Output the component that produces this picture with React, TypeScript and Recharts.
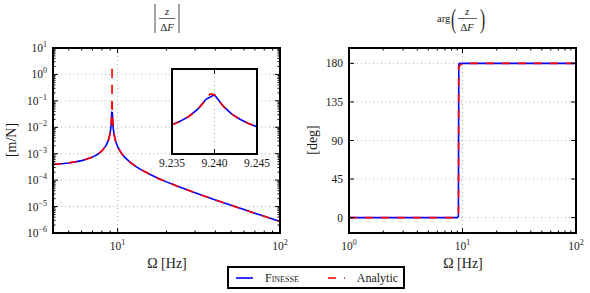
import { LineChart, Line, XAxis, YAxis, ReferenceLine } from "recharts";

const FONT = "'Liberation Serif', 'DejaVu Serif', serif";
const INK = "#1a1a1a";
const BLUE = "#0000ff";
const RED = "#ff0000";
const GRID = "#b4b4b4";

// |z / dF| in m/N, Finesse run (coarser sampling, misses the top of the peak)
const finesseFreq = [4, 4.5, 5, 5.5, 6, 6.5, 7, 7.5, 8, 8.5, 8.8, 9, 9.1, 9.15, 9.2, 9.28, 9.35, 9.4, 9.5, 9.7, 10, 10.5, 11, 12, 13, 14, 16, 18, 20, 25, 30, 40, 50, 60, 70, 80, 90, 100];
const finesseMag = [3.9e-4, 4.16e-4, 4.48e-4, 4.91e-4, 5.48e-4, 6.28e-4, 7.44e-4, 9.29e-4, 1.27e-3, 2.06e-3, 3.41e-3, 6.19e-3, 1.06e-2, 1.64e-2, 3.7e-2, 3.63e-2, 1.32e-2, 9.06e-3, 5.55e-3, 3.1e-3, 1.85e-3, 1.09e-3, 7.6e-4, 4.62e-4, 3.24e-4, 2.45e-4, 1.59e-4, 1.13e-4, 8.6e-5, 5.02e-5, 3.32e-5, 1.79e-5, 1.12e-5, 7.7e-6, 5.62e-6, 4.29e-6, 3.38e-6, 2.73e-6];

// analytic curve, goes all the way up the resonance
const analyticFreq = [4, 5, 6, 7, 7.5, 8, 8.5, 8.8, 9, 9.1, 9.15, 9.2, 9.22, 9.23, 9.235, 9.2397, 9.245, 9.25, 9.26, 9.28, 9.35, 9.4, 9.5, 9.7, 10, 10.5, 11, 12, 13, 14, 16, 18, 20, 25, 30, 40, 50, 60, 70, 80, 90, 100];
const analyticMag = [3.9e-4, 4.48e-4, 5.48e-4, 7.44e-4, 9.29e-4, 1.27e-3, 2.06e-3, 3.41e-3, 6.19e-3, 1.06e-2, 1.64e-2, 3.7e-2, 7.44e-2, 0.151, 0.308, 2.2, 0.274, 0.142, 0.072, 3.63e-2, 1.32e-2, 9.06e-3, 5.55e-3, 3.1e-3, 1.85e-3, 1.09e-3, 7.6e-4, 4.62e-4, 3.24e-4, 2.45e-4, 1.59e-4, 1.13e-4, 8.6e-5, 5.02e-5, 3.32e-5, 1.79e-5, 1.12e-5, 7.7e-6, 5.62e-6, 4.29e-6, 3.38e-6, 2.73e-6];

// zoom on the resonance (inset)
const insetFinesseFreq = [9.235, 9.236, 9.237, 9.238, 9.239, 9.24, 9.241, 9.242, 9.243, 9.244, 9.245];
const insetFinesseMag = [0.308, 0.389, 0.526, 0.802, 1.515, 2.005, 1.002, 0.611, 0.435, 0.336, 0.274];
const insetAnalyticFreq = [9.235, 9.2355, 9.236, 9.2365, 9.237, 9.2375, 9.238, 9.2385, 9.239, 9.2395, 9.24, 9.2405, 9.241, 9.2415, 9.242, 9.2425, 9.243, 9.2435, 9.244, 9.2445, 9.245];
const insetAnalyticMag = [0.308, 0.344, 0.389, 0.448, 0.526, 0.637, 0.802, 1.066, 1.515, 2.107, 2.005, 1.406, 1.002, 0.762, 0.611, 0.508, 0.435, 0.379, 0.336, 0.302, 0.274];

// arg(z / dF) in degrees
const phaseFinesseFreq = [1, 1.5, 2, 3, 4, 5, 6, 7, 8, 9, 9.2, 9.28, 9.5, 10, 15, 20, 30, 50, 70, 100];
const phaseFinesse = [0, 0, 0, 0, 0, 0, 0, 0, 0, 0, 1, 179, 180, 180, 180, 180, 180, 180, 180, 180];
const phaseAnalyticFreq = [1, 2, 3, 5, 7, 9, 9.23, 9.2397, 9.25, 10, 20, 50, 100];
const phaseAnalytic = [0, 0, 0, 0, 0, 0, 3.9, 90, 176.3, 180, 180, 180, 180];

// ticks
const magXMajor = [10, 100];
const magXMinor = [4, 5, 6, 7, 8, 9, 20, 30, 40, 50, 60, 70, 80, 90];
const magYMajor = [1e-6, 1e-5, 1e-4, 1e-3, 1e-2, 1e-1, 1, 10];
const magYMinor = [
  2e-6, 3e-6, 4e-6, 5e-6, 6e-6, 7e-6, 8e-6, 9e-6,
  2e-5, 3e-5, 4e-5, 5e-5, 6e-5, 7e-5, 8e-5, 9e-5,
  2e-4, 3e-4, 4e-4, 5e-4, 6e-4, 7e-4, 8e-4, 9e-4,
  2e-3, 3e-3, 4e-3, 5e-3, 6e-3, 7e-3, 8e-3, 9e-3,
  0.02, 0.03, 0.04, 0.05, 0.06, 0.07, 0.08, 0.09,
  0.2, 0.3, 0.4, 0.5, 0.6, 0.7, 0.8, 0.9,
  2, 3, 4, 5, 6, 7, 8, 9,
];
const phaseXMajor = [1, 10, 100];
const phaseXMinor = [2, 3, 4, 5, 6, 7, 8, 9, 20, 30, 40, 50, 60, 70, 80, 90];
const phaseYTicks = [0, 45, 90, 135, 180];
const insetXTicks = [9.235, 9.24, 9.245];

const series = [
  { name: "Finesse", color: BLUE, dash: undefined as string | undefined },
  { name: "Analytic", color: RED, dash: "8 8" },
];

const pts = (xs: number[], ys: number[]) => xs.map((f, i) => ({ f, v: ys[i] }));

const pow = (v: number) => {
  const e = Math.round(Math.log10(v));
  return e < 0 ? `\u2212${-e}` : `${e}`;
};

const tickLabel = (kind: string, v: number) => {
  if (kind === "pow")
    return (
      <>
        10<tspan dy={-5} fontSize={8}>{pow(v)}</tspan>
      </>
    );
  if (kind === "fix") return v.toFixed(3);
  return String(v);
};

const bottomTick = (majors: number[], top: number, kind: string, gap = 17) => (p: any) => {
  const { x, y, payload } = p;
  const v: number = payload.value;
  const major = majors.includes(v);
  const len = major ? 5 : 2.5;
  return (
    <g>
      <line x1={x} x2={x} y1={y} y2={y - len} stroke="#000" />
      <line x1={x} x2={x} y1={top} y2={top + len} stroke="#000" />
      {major && (
        <text x={x} y={y + gap} textAnchor="middle" fontFamily={FONT} fontSize={11.5} fill={INK}>
          {tickLabel(kind, v)}
        </text>
      )}
    </g>
  );
};

const leftTick = (majors: number[], right: number, kind: string) => (p: any) => {
  const { x, y, payload } = p;
  const v: number = payload.value;
  const major = majors.includes(v);
  const len = major ? 5 : 2.5;
  return (
    <g>
      <line x1={x} x2={x + len} y1={y} y2={y} stroke="#000" />
      <line x1={right} x2={right - len} y1={y} y2={y} stroke="#000" />
      {major && (
        <text x={x - 6} y={y + 4} textAnchor="end" fontFamily={FONT} fontSize={11.5} fill={INK}>
          {tickLabel(kind, v)}
        </text>
      )}
    </g>
  );
};

const grid = { stroke: GRID, strokeDasharray: "1 3", strokeWidth: 1 };

const Frame = ({ left, top, w, h }: { left: number; top: number; w: number; h: number }) => (
  <div
    style={{
      position: "absolute",
      left,
      top,
      width: w,
      height: h,
      border: "2px solid #000",
      boxSizing: "border-box",
      pointerEvents: "none",
    }}
  />
);

function MagnitudePanel() {
  return (
    <LineChart width={300} height={293} margin={{ top: 48, right: 20, bottom: 0, left: 0 }}>
      <XAxis
        dataKey="f"
        type="number"
        scale="log"
        domain={[4, 100]}
        allowDataOverflow
        ticks={[...magXMinor, ...magXMajor]}
        interval={0}
        height={60}
        tickSize={0}
        tickMargin={0}
        tickLine={false}
        axisLine={false}
        tick={bottomTick(magXMajor, 48, "pow")}
      />
      <YAxis
        type="number"
        scale="log"
        domain={[1e-6, 10]}
        allowDataOverflow
        ticks={[...magYMinor, ...magYMajor]}
        interval={0}
        width={53}
        tickSize={0}
        tickMargin={0}
        tickLine={false}
        axisLine={false}
        tick={leftTick(magYMajor, 280, "pow")}
      />
      {magXMajor.map((v) => (
        <ReferenceLine key={"x" + v} x={v} {...grid} />
      ))}
      {magYMajor.map((v) => (
        <ReferenceLine key={"y" + v} y={v} {...grid} />
      ))}
      <Line data={pts(finesseFreq, finesseMag)} dataKey="v" stroke={BLUE} strokeWidth={1.6} dot={false} isAnimationActive={false} />
      <Line data={pts(analyticFreq, analyticMag)} dataKey="v" stroke={RED} strokeWidth={1.6} strokeDasharray="8 8" dot={false} isAnimationActive={false} />
    </LineChart>
  );
}

function InsetPanel() {
  return (
    <LineChart width={125} height={105} margin={{ top: 0, right: 20, bottom: 0, left: 20 }}>
      <XAxis
        dataKey="f"
        type="number"
        domain={[9.235, 9.245]}
        allowDataOverflow
        ticks={insetXTicks}
        interval={0}
        height={20}
        tickSize={0}
        tickMargin={0}
        tickLine={false}
        axisLine={false}
        tick={bottomTick(insetXTicks, 0, "fix", 13)}
      />
      <YAxis hide type="number" scale="log" domain={[0.05, 10]} allowDataOverflow />
      <ReferenceLine x={9.24} {...grid} />
      <Line data={pts(insetFinesseFreq, insetFinesseMag)} dataKey="v" stroke={BLUE} strokeWidth={1.6} dot={false} isAnimationActive={false} />
      <Line data={pts(insetAnalyticFreq, insetAnalyticMag)} dataKey="v" stroke={RED} strokeWidth={1.6} strokeDasharray="8 8" dot={false} isAnimationActive={false} />
    </LineChart>
  );
}

function PhasePanel() {
  return (
    <LineChart width={300} height={293} margin={{ top: 48, right: 14, bottom: 0, left: 0 }}>
      <XAxis
        dataKey="f"
        type="number"
        scale="log"
        domain={[1, 100]}
        allowDataOverflow
        ticks={[...phaseXMinor, ...phaseXMajor]}
        interval={0}
        height={60}
        tickSize={0}
        tickMargin={0}
        tickLine={false}
        axisLine={false}
        tick={bottomTick(phaseXMajor, 48, "pow")}
      />
      <YAxis
        type="number"
        domain={[-18, 198]}
        allowDataOverflow
        ticks={phaseYTicks}
        interval={0}
        width={59}
        tickSize={0}
        tickMargin={0}
        tickLine={false}
        axisLine={false}
        tick={leftTick(phaseYTicks, 286, "lin")}
      />
      <ReferenceLine x={10} {...grid} />
      {phaseYTicks.map((v) => (
        <ReferenceLine key={"y" + v} y={v} {...grid} />
      ))}
      <Line data={pts(phaseFinesseFreq, phaseFinesse)} dataKey="v" stroke={BLUE} strokeWidth={1.6} dot={false} isAnimationActive={false} />
      <Line data={pts(phaseAnalyticFreq, phaseAnalytic)} dataKey="v" stroke={RED} strokeWidth={1.6} strokeDasharray="8 8" dot={false} isAnimationActive={false} />
    </LineChart>
  );
}

const Legend = () => (
  <div
    style={{
      position: "absolute",
      left: 227,
      top: 266,
      width: 178,
      height: 23,
      border: "2px solid #000",
      boxSizing: "border-box",
      background: "#fff",
      display: "flex",
      alignItems: "center",
      paddingLeft: 7,
      fontFamily: FONT,
      fontSize: 12,
      color: INK,
    }}
  >
    {series.map((s, i) => (
      <div key={s.name} style={{ display: "flex", alignItems: "center", marginRight: i === 0 ? 29 : 0 }}>
        <svg width={17} height={4} style={{ marginRight: 12 }}>
          <line x1={0} x2={17} y1={2} y2={2} stroke={s.color} strokeWidth={1.6} strokeDasharray={s.dash} />
        </svg>
        <span style={{ fontVariant: i === 0 ? "small-caps" : "normal", lineHeight: "14px" }}>{s.name}</span>
      </div>
    ))}
  </div>
);

const Titles = () => (
  <svg width={590} height={293} style={{ position: "absolute", left: 0, top: 0, pointerEvents: "none" }} fontFamily={FONT} fill={INK}>
    {/* |z / dF| */}
    <line x1={155} x2={155} y1={4} y2={33} stroke={INK} strokeWidth={0.8} />
    <line x1={179} x2={179} y1={4} y2={33} stroke={INK} strokeWidth={0.8} />
    <text x={167} y={15} textAnchor="middle" fontSize={10.5} fontStyle="italic">z</text>
    <line x1={159} x2={175} y1={18.5} y2={18.5} stroke={INK} strokeWidth={0.7} />
    <text x={167} y={31} textAnchor="middle" fontSize={10.5}>
      Δ<tspan fontStyle="italic">F</tspan>
    </text>
    {/* arg(z / dF) */}
    <text x={437} y={22} fontSize={10.5}>arg</text>
    <text x={0} y={0} fontSize={28} transform="translate(451,28) scale(0.55,1)">(</text>
    <text x={467} y={15} textAnchor="middle" fontSize={10.5} fontStyle="italic">z</text>
    <line x1={458} x2={477} y1={18.5} y2={18.5} stroke={INK} strokeWidth={0.7} />
    <text x={467} y={31} textAnchor="middle" fontSize={10.5}>
      Δ<tspan fontStyle="italic">F</tspan>
    </text>
    <text x={0} y={0} fontSize={28} transform="translate(480,28) scale(0.55,1)">)</text>
    {/* axis labels */}
    <text x={167} y={268} textAnchor="middle" fontSize={14}>Ω [Hz]</text>
    <text x={463} y={268} textAnchor="middle" fontSize={14}>Ω [Hz]</text>
    <text x={0} y={4.5} textAnchor="middle" fontSize={14} transform="translate(11,140) rotate(-90)">[m/N]</text>
    <text x={0} y={4.5} textAnchor="middle" fontSize={14} transform="translate(312,140) rotate(-90)">[deg]</text>
  </svg>
);

export default function App() {
  return (
    <div style={{ position: "absolute", left: 0, top: 0, width: 590, height: 293, background: "#fff", overflow: "hidden" }}>
      <div style={{ position: "absolute", left: 0, top: 0 }}>
        <MagnitudePanel />
      </div>
      <Frame left={52} top={47} w={229} h={187} />
      <div style={{ position: "absolute", left: 171, top: 68, width: 87, height: 87, background: "#fff" }} />
      <div style={{ position: "absolute", left: 152, top: 69 }}>
        <InsetPanel />
      </div>
      <Frame left={171} top={68} w={87} h={87} />
      <div style={{ position: "absolute", left: 290, top: 0 }}>
        <PhasePanel />
      </div>
      <Frame left={348} top={47} w={229} h={187} />
      <Titles />
      <Legend />
    </div>
  );
}
